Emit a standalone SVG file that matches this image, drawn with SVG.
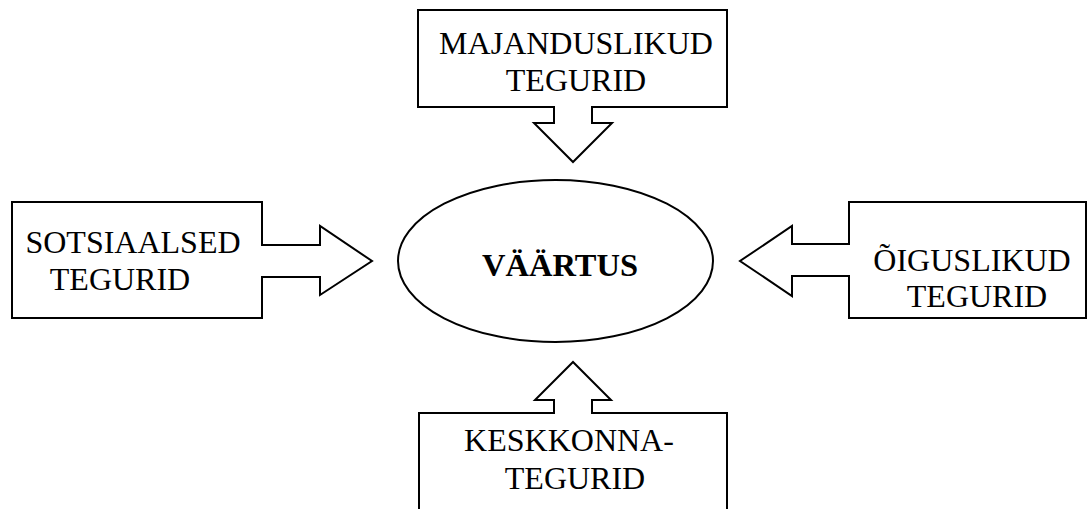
<svg xmlns="http://www.w3.org/2000/svg" width="1090" height="509" viewBox="0 0 1090 509">
<style>
.box{fill:#fff;stroke:#000;stroke-width:2}
.arr{fill:#fff;stroke:#000;stroke-width:2;stroke-linejoin:miter}
.cover{fill:#fff;stroke:none}
.t{font-family:"Liberation Serif","Times New Roman",serif;font-size:32px;fill:#000;text-anchor:middle}
.b{font-weight:bold;font-size:32.5px}
</style>
<rect width="1090" height="509" fill="#fff"/>
<g id="majanduslikud">
<rect class="box" x="418" y="10" width="309" height="97"/>
<text class="t" x="576" y="54">MAJANDUSLIKUD</text>
<text class="t" x="576" y="91">TEGURID</text>
</g>
<g id="sotsiaalsed">
<rect class="box" x="12" y="202" width="250" height="116"/>
<text class="t" x="133" y="253">SOTSIAALSED</text>
<text class="t" x="120" y="290">TEGURID</text>
</g>
<g id="oiguslikud">
<rect class="box" x="849" y="202" width="237" height="116"/>
<text class="t" x="972" y="271">ÕIGUSLIKUD</text>
<text class="t" x="977" y="307">TEGURID</text>
</g>
<g id="keskkonna">
<rect class="box" x="419" y="413" width="308" height="110"/>
<text class="t" x="569" y="451">KESKKONNA-</text>
<text class="t" x="575" y="489">TEGURID</text>
</g>
<g id="vaartus">
<ellipse class="box" cx="555.5" cy="261" rx="157.5" ry="81"/>
<text class="t b" x="560" y="276">VÄÄRTUS</text>
</g>
<g id="connectors">
<rect class="cover" x="555" y="104" width="36" height="6"/>
<path class="arr" d="M554,107 V123 H534 L573,162 L612,123 H592 V107"/>
<rect class="cover" x="259" y="246" width="6" height="30"/>
<path class="arr" d="M262,245 H320 V226 L372,261 L320,295 V277 H262"/>
<rect class="cover" x="846" y="245" width="6" height="30"/>
<path class="arr" d="M849,244 H792 V226 L740,261 L792,296 V276 H849"/>
<rect class="cover" x="555" y="410" width="36" height="6"/>
<path class="arr" d="M554,413 V400 H535 L573,362 L611,400 H592 V413"/>
</g>
</svg>
